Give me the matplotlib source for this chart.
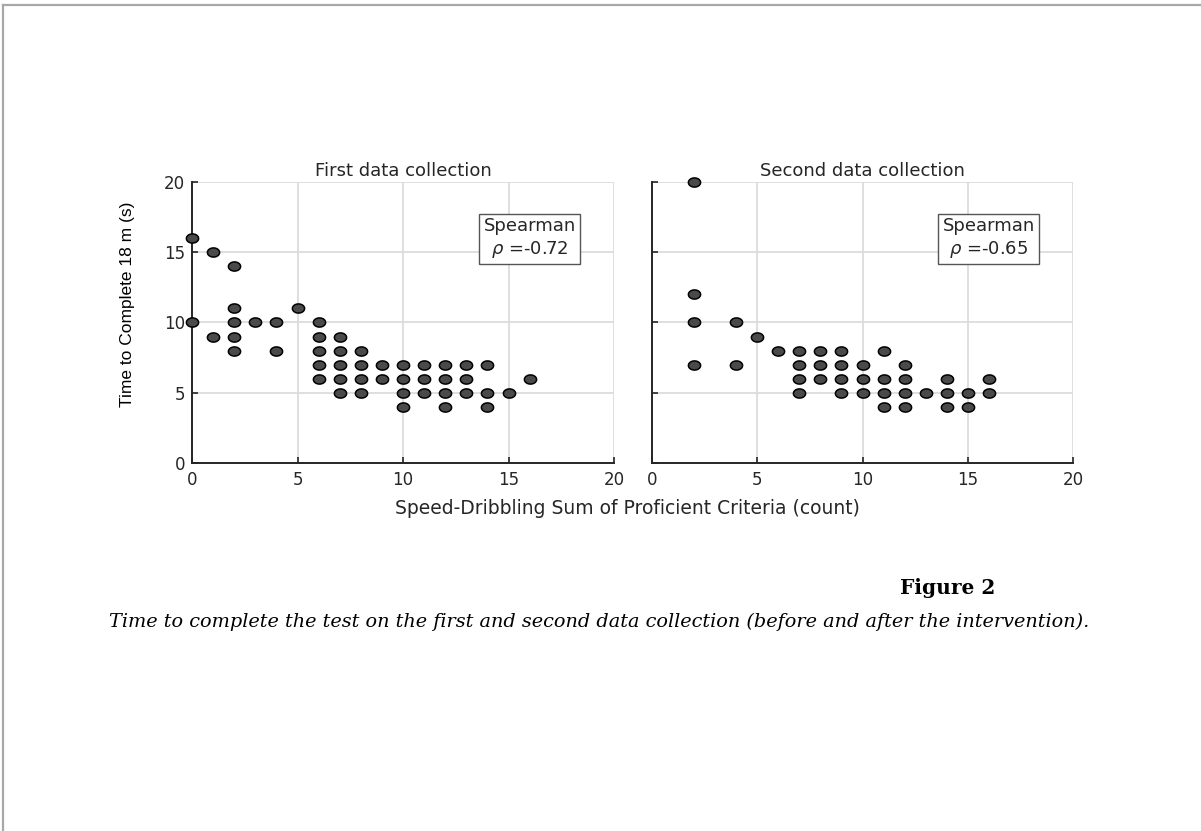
import numpy as np
import matplotlib
matplotlib.use("Agg")
import matplotlib.pyplot as plt
from matplotlib.path import Path
from matplotlib.lines import Line2D

# ============================================================
# DATA
# ============================================================
FIRST_X = [0, 0, 1, 1, 2, 2, 2, 2, 2, 3, 4, 4, 5,
           6, 6, 6, 6, 6, 7, 7, 7, 7, 7, 8, 8, 8, 8, 9, 9,
           10, 10, 10, 10, 11, 11, 11, 12, 12, 12, 12, 13, 13, 13,
           14, 14, 14, 15, 16]
FIRST_Y = [16, 10, 15, 9, 14, 11, 10, 9, 8, 10, 10, 8, 11,
           10, 9, 8, 7, 6, 9, 8, 7, 6, 5, 8, 7, 6, 5, 7, 6,
           7, 6, 5, 4, 7, 6, 5, 7, 6, 5, 4, 7, 6, 5,
           7, 5, 4, 5, 6]

SECOND_X = [2, 2, 2, 2, 4, 4, 5, 6,
            7, 7, 7, 7, 8, 8, 8, 9, 9, 9, 9,
            10, 10, 10, 11, 11, 11, 11, 12, 12, 12, 12, 13,
            14, 14, 14, 15, 15, 16, 16]
SECOND_Y = [20, 12, 10, 7, 10, 7, 9, 8,
            8, 7, 6, 5, 8, 7, 6, 8, 7, 6, 5,
            7, 6, 5, 8, 6, 5, 4, 7, 6, 5, 4, 5,
            6, 5, 4, 5, 4, 6, 5]

TITLES = ["First data collection", "Second data collection"]
RHO = [-0.72, -0.65]
XLABEL = "Speed-Dribbling Sum of Proficient Criteria (count)"
YLABEL = "Time to Complete 18 m (s)"
TICKS = [0, 5, 10, 15, 20]
FIG_TITLE = "Figure 2"
CAPTION = ("Time to complete the test on the first and second data collection "
           "(before and after the intervention).")

# ============================================================
# RENDER
# ============================================================
DARK = "#262626"
t = np.linspace(0, 2 * np.pi, 40)
ellipse = Path(np.column_stack([np.cos(t), 0.75 * np.sin(t)]), closed=True)

fig = plt.figure(figsize=(12.01, 8.31), dpi=100)
fig.patch.set_facecolor("white")

# page border (top and left)
fig.add_artist(Line2D([3 / 1201, 1], [1 - 5 / 831, 1 - 5 / 831],
                      transform=fig.transFigure, color="#a8a8a8", lw=1.6))
fig.add_artist(Line2D([3 / 1201, 3 / 1201], [0, 1 - 5 / 831],
                      transform=fig.transFigure, color="#a8a8a8", lw=1.6))

ax_h = 281 / 831
ax_b = 1 - 463 / 831
ax1 = fig.add_axes([192 / 1201, ax_b, 422 / 1201, ax_h])
ax2 = fig.add_axes([652 / 1201, ax_b, 421 / 1201, ax_h])

for i, (ax, xs, ys) in enumerate([(ax1, FIRST_X, FIRST_Y), (ax2, SECOND_X, SECOND_Y)]):
    ax.plot(xs, ys, linestyle="none", marker=ellipse, markersize=8.8,
            markerfacecolor="#4a4a4a", markeredgecolor="black",
            markeredgewidth=1.1, clip_on=False, zorder=3)
    ax.set_xlim(0, 20)
    ax.set_ylim(0, 20)
    ax.set_xticks(TICKS)
    ax.set_yticks(TICKS)
    ax.grid(True, color="#dcdcdc", linewidth=1.3)
    ax.set_axisbelow(True)
    for side in ["top", "right"]:
        ax.spines[side].set_visible(False)
    for side in ["left", "bottom"]:
        ax.spines[side].set_color(DARK)
        ax.spines[side].set_linewidth(1.4)
    ax.tick_params(direction="in", length=4, width=1.2, color=DARK,
                   labelcolor=DARK, labelsize=12)
    ax.tick_params(axis="x", pad=6)
    ax.tick_params(axis="y", pad=5)
    ax.set_title(TITLES[i], fontsize=13, color=DARK, pad=4)
    ax.text(16, 16, "Spearman\n$\\rho$ =%.2f" % RHO[i], ha="center", va="center",
            fontsize=13, color=DARK, linespacing=1.25,
            bbox=dict(boxstyle="square,pad=0.25", facecolor="white",
                      edgecolor="#555555", linewidth=1.0))

ax2.tick_params(labelleft=False)
ax1.set_ylabel(YLABEL, fontsize=12.5, family="Liberation Sans", color="black")
ax1.yaxis.set_label_coords(-0.135, 0.564)
fig.text(627 / 1201, 1 - 509 / 831, XLABEL, ha="center", va="center",
         fontsize=13.5, color=DARK)

fig.text(948 / 1201, 1 - 588 / 831, FIG_TITLE, ha="center", va="center",
         fontsize=14.5, weight="bold", family="DejaVu Serif")
fig.text(599 / 1201, 1 - 622 / 831, CAPTION, ha="center", va="center",
         fontsize=13.9, style="italic", family="DejaVu Serif")

plt.savefig("out.png", dpi=100, facecolor="white")
plt.close()
